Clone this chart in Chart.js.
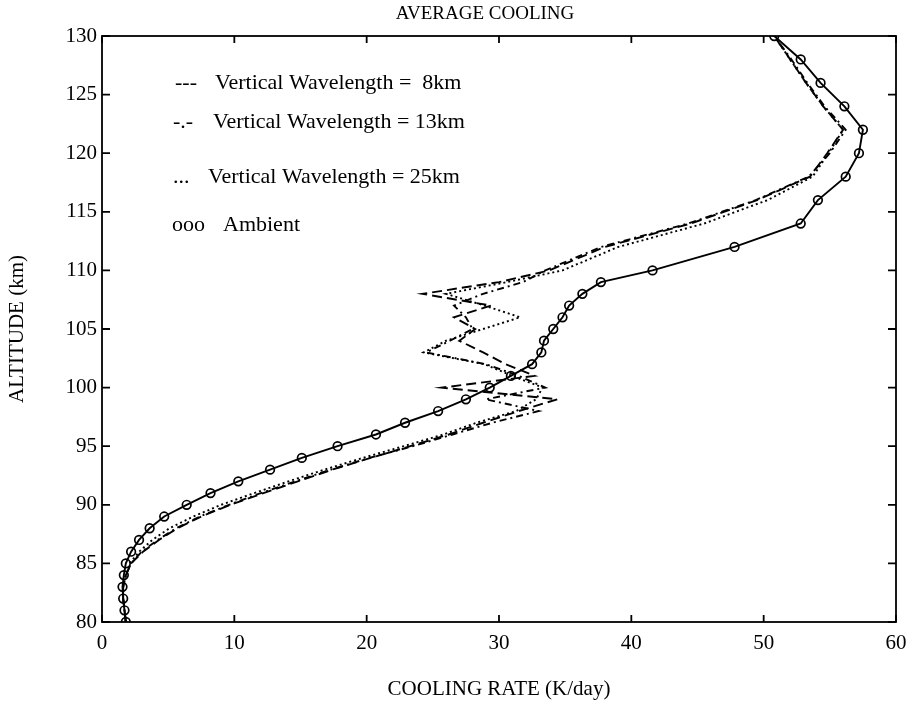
<!DOCTYPE html>
<html>
<head>
<meta charset="utf-8">
<title>Average cooling</title>
<script src="https://cdn.jsdelivr.net/npm/chart.js@4.4.1/dist/chart.umd.min.js"></script>
<style>
  body { margin: 0; background: #fff; }
  #wrap { width: 916px; height: 708px; }
</style>
</head>
<body>
<div id="wrap"><canvas id="cooling-chart"></canvas></div>
<script>
// altitudes (km) shared by every curve
const altitudes = [
  80, 81, 82, 83, 84, 85, 86, 87, 88, 89, 90, 91, 92, 93, 94, 95, 96, 97, 98, 99,
  100, 101, 102, 103, 104, 105, 106, 107, 108, 109, 110,
  112, 114, 116, 118, 120, 122, 124, 126, 128, 130,
];
// cooling rates (K/day)
const ambientRate = [
  1.8, 1.7, 1.6, 1.55, 1.65, 1.8, 2.2, 2.8, 3.6, 4.7, 6.4, 8.2, 10.3, 12.7, 15.1, 17.8, 20.7, 22.9, 25.4, 27.5,
  29.3, 30.9, 32.5, 33.2, 33.4, 34.1, 34.8, 35.3, 36.3, 37.7, 41.6,
  47.8, 52.8, 54.1, 56.2, 57.2, 57.5, 56.1, 54.3, 52.8, 50.8,
];
const wave8Rate = [
  1.8, 1.7, 1.6, 1.6, 1.8, 2.2, 3.1, 4.3, 5.7, 7.5, 9.7, 12.2, 14.8, 17.4, 20.3, 23.3, 26.2, 28.8, 31.5, 34.4,
  25.7, 32.7, 30.5, 28.8, 27.0, 28.2, 26.6, 29.4, 24.2, 30.0, 33.8,
  38.0, 44.5, 49.5, 53.5, 54.8, 56.0, 54.5, 53.2, 52.0, 50.8,
];
const wave13Rate = [
  1.8, 1.7, 1.6, 1.6, 1.8, 2.2, 3.0, 4.2, 5.6, 7.4, 9.6, 12.0, 14.6, 17.3, 20.2, 23.5, 26.5, 29.5, 33.0, 29.0,
  33.5, 31.5, 29.0, 24.5, 26.3, 28.0, 27.5, 26.6, 28.8, 31.8, 33.5,
  37.7, 44.3, 49.4, 53.4, 55.0, 56.2, 54.6, 53.3, 52.1, 50.8,
];
const wave25Rate = [
  1.8, 1.7, 1.6, 1.6, 1.8, 2.1, 2.8, 3.8, 5.1, 6.9, 9.0, 11.5, 14.1, 16.8, 19.7, 22.8, 25.8, 28.3, 31.3, 32.8,
  33.3, 31.0, 28.9, 24.3, 26.0, 28.8, 31.6, 28.9, 26.0, 30.6, 34.8,
  39.0, 45.5, 50.3, 53.7, 54.9, 56.0, 54.5, 53.2, 52.0, 50.8,
];
// hand-typed legend of the original
const legendMarks = ["---", "-.-", "...", "ooo"];
const legendLabels = [
  "Vertical Wavelength =  8km",
  "Vertical Wavelength = 13km",
  "Vertical Wavelength = 25km",
  "Ambient",
];

const serif = "'Liberation Serif', 'DejaVu Serif', serif";

function toPoints(rates) {
  return rates.map((r, i) => ({ x: r, y: altitudes[i] }));
}

function lineSet(label, rates, dash) {
  return {
    label: label,
    data: toPoints(rates),
    showLine: true,
    borderColor: "#000",
    borderWidth: 1.9,
    borderDash: dash,
    pointRadius: 0,
    fill: false,
    tension: 0,
  };
}

// box with inward ticks on all four sides, title and typed legend
const framePlugin = {
  id: "frame",
  afterDraw(chart) {
    const { ctx, chartArea: a, scales } = chart;
    const x = scales.x;
    const y = scales.y;
    ctx.save();
    ctx.strokeStyle = "#000";
    ctx.lineWidth = 1.8;
    ctx.strokeRect(a.left, a.top, a.right - a.left, a.bottom - a.top);
    ctx.beginPath();
    x.ticks.forEach((t) => {
      const px = x.getPixelForValue(t.value);
      ctx.moveTo(px, a.bottom);
      ctx.lineTo(px, a.bottom - 7);
      ctx.moveTo(px, a.top);
      ctx.lineTo(px, a.top + 7);
    });
    y.ticks.forEach((t) => {
      const py = y.getPixelForValue(t.value);
      ctx.moveTo(a.left, py);
      ctx.lineTo(a.left + 8, py);
      ctx.moveTo(a.right, py);
      ctx.lineTo(a.right - 8, py);
    });
    ctx.stroke();

    ctx.fillStyle = "#000";
    ctx.textBaseline = "middle";
    ctx.textAlign = "center";
    ctx.font = "19px " + serif;
    ctx.fillText("AVERAGE COOLING", (a.left + a.right) / 2 - 14, 14);

    const rowY = [83, 122, 177, 225];
    const markX = [175, 173, 173, 172];
    const textX = [215, 213, 208, 223];
    ctx.textAlign = "left";
    ctx.font = "22px " + serif;
    legendMarks.forEach((m, i) => {
      ctx.fillText(m, markX[i], rowY[i]);
      ctx.fillText(legendLabels[i], textX[i], rowY[i]);
    });
    ctx.restore();
  },
};

const config = {
  type: "scatter",
  data: {
    datasets: [
      {
        label: "Ambient",
        data: toPoints(ambientRate),
        showLine: true,
        borderColor: "#000",
        borderWidth: 1.9,
        pointRadius: 4.3,
        pointBorderWidth: 1.7,
        pointBorderColor: "#000",
        pointBackgroundColor: "rgba(0,0,0,0)",
        fill: false,
        tension: 0,
      },
      lineSet("Vertical Wavelength = 8km", wave8Rate, [10, 5]),
      lineSet("Vertical Wavelength = 13km", wave13Rate, [7, 4, 2, 4]),
      lineSet("Vertical Wavelength = 25km", wave25Rate, [2, 3]),
    ],
  },
  options: {
    responsive: true,
    maintainAspectRatio: false,
    animation: false,
    layout: {
      padding: { top: 36, right: 20, left: 0, bottom: 0 },
    },
    plugins: {
      legend: { display: false },
      tooltip: { enabled: false },
      title: { display: false },
    },
    scales: {
      x: {
        type: "linear",
        min: 0,
        max: 60,
        ticks: {
          stepSize: 10,
          color: "#000",
          padding: 9,
          font: { family: serif, size: 21 },
        },
        grid: { display: false, drawTicks: false },
        border: { display: false },
        title: {
          display: true,
          text: "COOLING RATE (K/day)",
          color: "#000",
          padding: { top: 0, bottom: 6 },
          font: { family: serif, size: 21 },
        },
        afterFit: (scale) => {
          scale.height = 86;
        },
      },
      y: {
        type: "linear",
        min: 80,
        max: 130,
        ticks: {
          stepSize: 5,
          color: "#000",
          padding: 5,
          font: { family: serif, size: 21 },
        },
        grid: { display: false, drawTicks: false },
        border: { display: false },
        title: {
          display: true,
          text: "ALTITUDE (km)",
          color: "#000",
          padding: { top: 5, bottom: 0 },
          font: { family: serif, size: 21 },
        },
        afterFit: (scale) => {
          scale.width = 102;
        },
      },
    },
  },
  plugins: [framePlugin],
};

// draw chart
const chart = new Chart(document.getElementById("cooling-chart"), config);
</script>
</body>
</html>
